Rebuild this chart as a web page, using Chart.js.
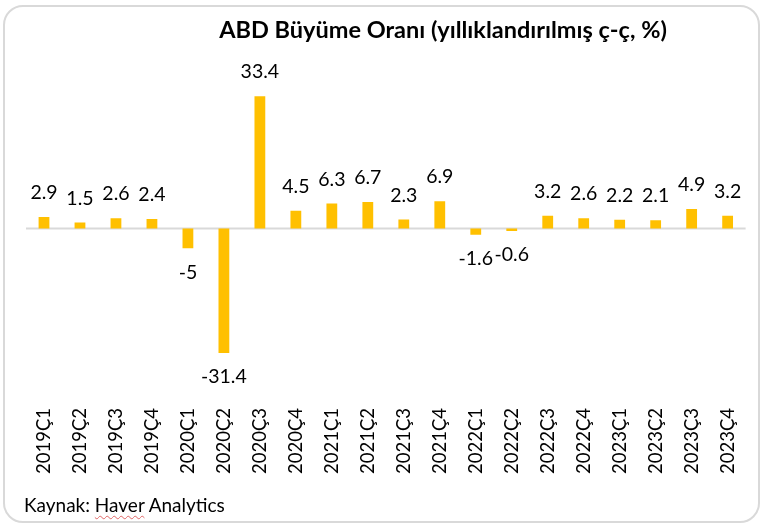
<!DOCTYPE html>
<html>
<head>
<meta charset="utf-8">
<script src="https://cdn.jsdelivr.net/npm/chart.js@4/dist/chart.umd.min.js"></script>
<style>
  html,body{margin:0;padding:0;background:#fff;}
  #wrap{position:relative;width:763px;height:526px;overflow:hidden;}
  #frame{position:absolute;left:3px;top:5px;width:753px;height:514px;border:2px solid #d9d9d9;border-radius:20px;box-sizing:content-box;}
  #chart{position:absolute;left:0;top:0;}
  #kaynak{position:absolute;left:24px;top:493px;font-family:Lato,"Open Sans",sans-serif;font-size:19px;color:#000;}
  #kaynak span{text-decoration:underline wavy #e06666;text-decoration-thickness:1px;text-underline-offset:3px;}
</style>
</head>
<body>
<div id="wrap">
  <div id="frame"></div>
  <canvas id="chart" width="763" height="526"></canvas>
  <div id="kaynak">Kaynak: <span>Haver</span> Analytics</div>
</div>
<script>
// Veriler
const baslik = 'ABD Büyüme Oranı (yıllıklandırılmış ç-ç, %)';
const ceyrekler = ['2019Ç1','2019Ç2','2019Ç3','2019Ç4','2020Ç1','2020Ç2','2020Ç3','2020Ç4',
  '2021Ç1','2021Ç2','2021Ç3','2021Ç4','2022Ç1','2022Ç2','2022Ç3','2022Ç4',
  '2023Ç1','2023Ç2','2023Ç3','2023Ç4'];
const buyume = [2.9,1.5,2.6,2.4,-5,-31.4,33.4,4.5,6.3,6.7,2.3,6.9,-1.6,-0.6,3.2,2.6,2.2,2.1,4.9,3.2];

const FONT = 'Lato, "Open Sans", sans-serif';

// --- Başlık, sıfır çizgisi, değer etiketleri ---
const ekstralar = {
  id:'ekstralar',
  beforeDatasetsDraw(chart){
    const {ctx, chartArea, scales} = chart;
    const y0 = scales.y.getPixelForValue(0);
    ctx.save();
    ctx.strokeStyle = '#d9d9d9'; ctx.lineWidth = 2;
    ctx.beginPath(); ctx.moveTo(chartArea.left, y0); ctx.lineTo(chartArea.right, y0); ctx.stroke();
    ctx.restore();
  },
  afterDatasetsDraw(chart){
    const {ctx} = chart;
    ctx.save();
    ctx.fillStyle = '#000';
    ctx.font = 'bold 23.5px ' + FONT;
    ctx.textAlign = 'center'; ctx.textBaseline = 'middle';
    ctx.fillText(baslik, 443, 30);
    ctx.font = '19.5px ' + FONT;
    chart.getDatasetMeta(0).data.forEach((bar,i)=>{
      const v = buyume[i];
      const y = v >= 0 ? bar.y - 24 : bar.y + 24;
      ctx.fillText(String(v), bar.x, y);
    });
    ctx.restore();
  }
};

const ctx = document.getElementById('chart').getContext('2d');
const grafik = new Chart(ctx,{
  type:'bar',
  data:{ labels:ceyrekler, datasets:[{ data:buyume, backgroundColor:'#FFC000', borderWidth:0,
    barPercentage:0.3, categoryPercentage:1 }] },
  options:{
    responsive:false, animation:false,
    layout:{ padding:{ left:26, right:7, top:70, bottom:0 } },
    plugins:{ legend:{display:false}, tooltip:{enabled:false} },
    scales:{
      x:{
        grid:{display:false}, border:{display:false},
        ticks:{ color:'#000', font:{family:FONT, size:18.5}, autoSkip:false, minRotation:90, maxRotation:90, padding:13 },
        afterFit(s){ s.height = 139; }
      },
      y:{ display:false, min:-40, max:40 }
    }
  },
  plugins:[ekstralar]
});
</script>
</body>
</html>
